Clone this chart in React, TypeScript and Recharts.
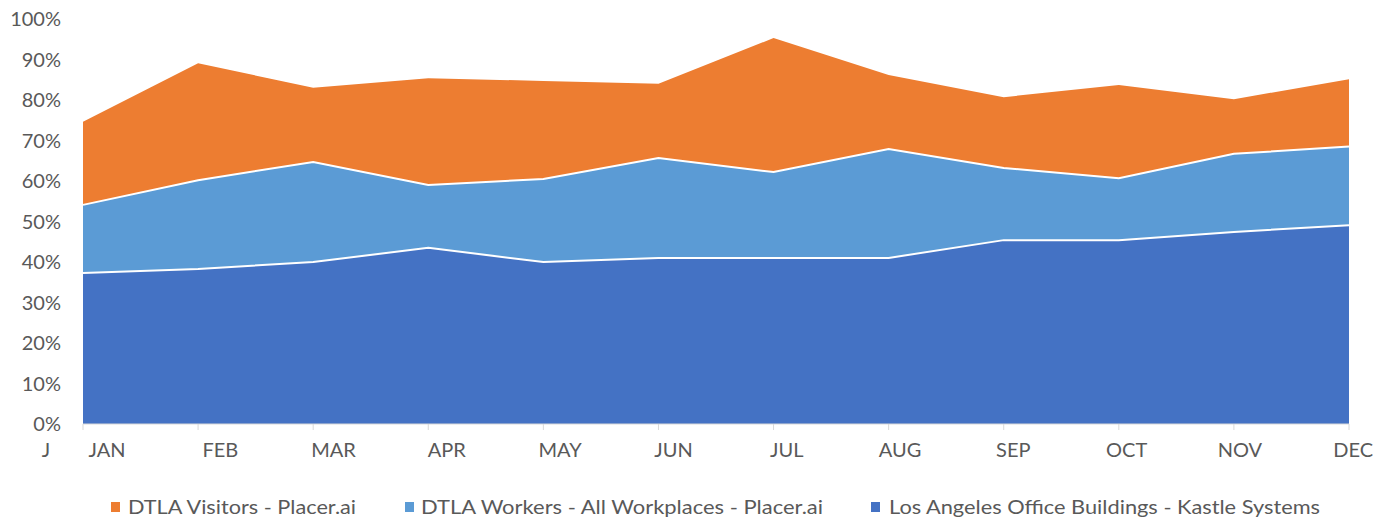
import { AreaChart, Area, XAxis, YAxis, Legend } from 'recharts'

const months = ['JAN', 'FEB', 'MAR', 'APR', 'MAY', 'JUN', 'JUL', 'AUG', 'SEP', 'OCT', 'NOV', 'DEC']
const visitors = [74.6, 89.1, 83.0, 85.4, 84.7, 84.0, 95.3, 86.2, 80.7, 83.7, 80.2, 85.1]
const workers = [54.1, 60.2, 64.7, 59.0, 60.5, 65.7, 62.2, 67.9, 63.2, 60.7, 66.7, 68.5]
const offices = [37.3, 38.3, 40.0, 43.5, 40.0, 41.0, 41.0, 41.0, 45.4, 45.4, 47.4, 49.1]
const yTicks = [0, 10, 20, 30, 40, 50, 60, 70, 80, 90, 100]

const seriesNames = {
  visitors: 'DTLA Visitors - Placer.ai',
  workers: 'DTLA Workers - All Workplaces - Placer.ai',
  offices: 'Los Angeles Office Buildings - Kastle Systems',
}

const COLORS = {
  visitors: '#ED7D31',
  workers: '#5B9BD5',
  offices: '#4472C4',
  text: '#595959',
  axis: '#D9D9D9',
}

const data = months.map((m, i) => ({
  month: m,
  visitors: visitors[i],
  workers: workers[i],
  offices: offices[i],
}))

const FONT = 'Lato, "Open Sans", sans-serif'
const W = 1386
const H = 522

function MonthTick(props: any) {
  const { x, y, payload, index } = props
  // excel drifted the labels a little to the right of the ticks
  const dx = 24 - index * 1.8
  return (
    <g>
      {index === 0 && (
        <text x={x - 37} y={y + 25} fill={COLORS.text} fontSize={20} fontFamily={FONT} textAnchor="middle">
          J
        </text>
      )}
      <text x={x + dx} y={y + 25} fill={COLORS.text} fontSize={20} fontFamily={FONT} textAnchor="middle">
        {payload.value}
      </text>
    </g>
  )
}

const legendItems = [
  { key: 'visitors', sq: 111, tx: 128, tw: 228 },
  { key: 'workers', sq: 405, tx: 421, tw: 402 },
  { key: 'offices', sq: 871, tx: 889, tw: 431 },
] as const

function ChartLegend() {
  return (
    <svg width={W} height={58} style={{ display: 'block' }}>
      {legendItems.map((it) => (
        <g key={it.key}>
          <rect x={it.sq} y={38} width={9} height={10} fill={COLORS[it.key]} />
          <text
            x={it.tx}
            y={50}
            fill={COLORS.text}
            fontSize={19}
            fontFamily={FONT}
            textLength={it.tw}
            lengthAdjust="spacingAndGlyphs"
          >
            {seriesNames[it.key]}
          </text>
        </g>
      ))}
    </svg>
  )
}

export default function App() {
  return (
    <div style={{ position: 'absolute', left: 0, top: 0, width: W, height: H }}>
      <AreaChart width={W} height={H} data={data} margin={{ top: 19, right: 37, left: 0, bottom: 0 }}>
        <XAxis
          dataKey="month"
          height={40}
          axisLine={{ stroke: COLORS.axis }}
          tickLine={{ stroke: COLORS.axis }}
          tickSize={6}
          tick={<MonthTick />}
          interval={0}
        />
        <YAxis
          width={83}
          domain={[0, 100]}
          ticks={yTicks}
          tickFormatter={(v: number) => `${v}%`}
          axisLine={false}
          tickLine={false}
          tickSize={0}
          tickMargin={22}
          tick={{ fill: COLORS.text, fontSize: 20, fontFamily: FONT }}
          interval={0}
        />
        <Legend
          verticalAlign="bottom"
          height={58}
          content={<ChartLegend />}
          wrapperStyle={{ left: 0, top: 464, width: W }}
        />
        <Area
          type="linear"
          dataKey="visitors"
          name={seriesNames.visitors}
          fill={COLORS.visitors}
          fillOpacity={1}
          stroke="none"
          isAnimationActive={false}
        />
        <Area
          type="linear"
          dataKey="workers"
          name={seriesNames.workers}
          fill={COLORS.workers}
          fillOpacity={1}
          stroke="#FFFFFF"
          strokeWidth={2}
          isAnimationActive={false}
        />
        <Area
          type="linear"
          dataKey="offices"
          name={seriesNames.offices}
          fill={COLORS.offices}
          fillOpacity={1}
          stroke="#FFFFFF"
          strokeWidth={2}
          isAnimationActive={false}
        />
      </AreaChart>
    </div>
  )
}
